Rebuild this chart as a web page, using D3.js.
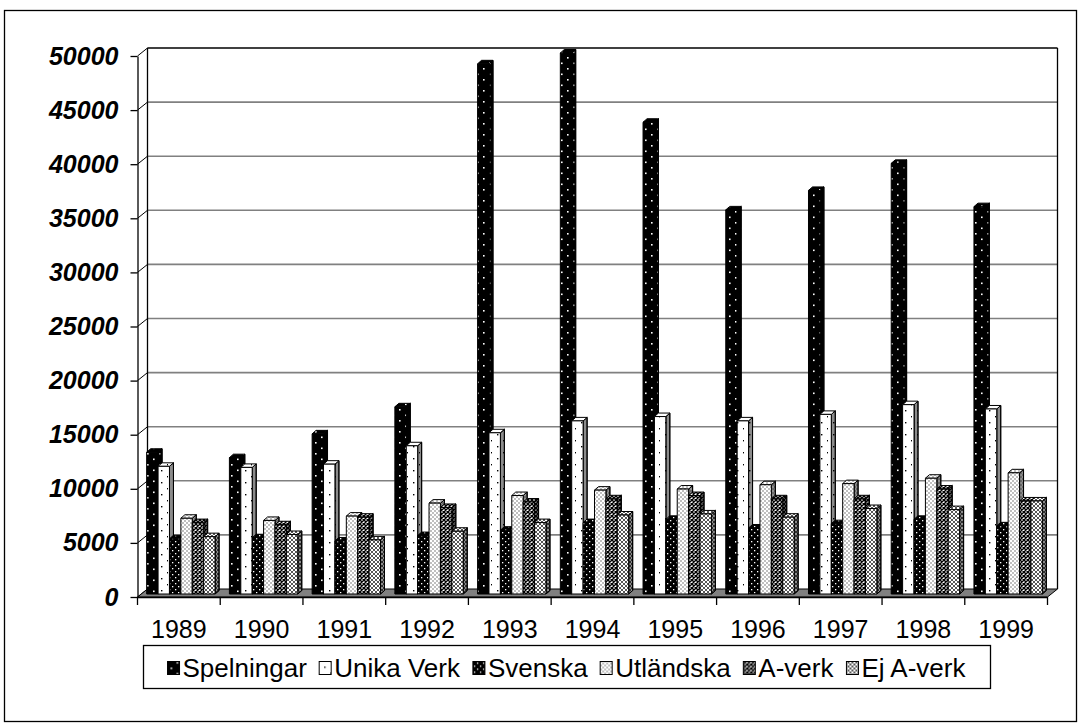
<!DOCTYPE html>
<html><head><meta charset="utf-8">
<script src="https://cdn.jsdelivr.net/npm/d3@7"></script>
<style>
html,body{margin:0;padding:0;background:#fff;}
svg{display:block;font-family:"Liberation Sans",Arial,Helvetica,sans-serif;}
</style>
</head><body>
<svg id="chart" width="1081" height="728"></svg>
<script>
// Yearly counts per series
const years = ["1989","1990","1991","1992","1993","1994","1995","1996","1997","1998","1999"];
const seriesNames = ["Spelningar","Unika Verk","Svenska","Utländska","A-verk","Ej A-verk"];
const spelningar = [13100,12600,14800,17300,49000,50000,43600,35500,37300,39800,35800];
const unikaVerk  = [11800,11700,12000,13700,14900,16000,16400,16000,16600,17500,17100];
const svenska    = [5100,5200,4900,5400,5900,6600,6900,6100,6500,6900,6300];
const utlandska  = [7000,6800,7200,8400,9100,9600,9700,10100,10200,10700,11200];
const aVerk      = [6600,6400,7100,8000,8500,8800,9100,8800,8800,9700,8600];
const ejAVerk    = [5300,5500,5000,5800,6600,7300,7400,7100,7900,7800,8600];
const yTicks = [0,5000,10000,15000,20000,25000,30000,35000,40000,45000,50000];

const seriesValues = [spelningar, unikaVerk, svenska, utlandska, aVerk, ejAVerk];
const patternIds = ["pSpel","pUnika","pSven","pUtl","pA","pEjA"];
const FONT = "'Liberation Sans',Arial,sans-serif";

const svg = d3.select("#chart");

// ---- fill patterns ----
const defs = svg.append("defs");
function dotPattern(id, w, h, bg, fg, dots, r) {
  const p = defs.append("pattern").attr("id", id).attr("patternUnits","userSpaceOnUse")
    .attr("width", w).attr("height", h);
  p.append("rect").attr("width", w).attr("height", h).attr("fill", bg);
  dots.forEach(([cx, cy]) => p.append("rect").attr("x", cx).attr("y", cy)
    .attr("width", r).attr("height", r).attr("fill", fg));
}
dotPattern("pSpel", 12, 11, "#000", "#fff", [[3,2],[9,7.5]], 1.6);
dotPattern("pUnika", 12, 12, "#fff", "#000", [[5,2],[11,8]], 1.4);
dotPattern("pSven", 6, 6, "#000", "#fff", [[1,1],[4,4]], 1.3);
dotPattern("pUtl", 4, 4, "#fff", "#000", [[0.5,0.5],[2.5,2.5]], 1);
function hatchPattern(id, bg, fg, sw) {
  const p = defs.append("pattern").attr("id", id).attr("patternUnits","userSpaceOnUse")
    .attr("width", 4).attr("height", 4);
  p.append("rect").attr("width", 4).attr("height", 4).attr("fill", bg);
  p.append("path").attr("d","M0,0L4,4M4,0L0,4").attr("stroke", fg).attr("stroke-width", sw);
}
hatchPattern("pA", "#fff", "#000", 1.4);
hatchPattern("pEjA", "#fff", "#444", 0.9);

// ---- geometry ----
const x = d3.scaleBand().domain(years).range([137.5, 1047.5]).paddingInner(0).paddingOuter(0);
const xs = d3.scaleBand().domain(seriesNames).range([0, x.bandwidth()]).paddingInner(0).paddingOuter(0.63);
const y = d3.scaleLinear().domain([0, 50000]).range([597, 56]);

const DX = 10, DY = -8;        // wall depth
const BFX = 2, BFY = -3;       // bar front offset inside the floor
const BDX = 4, BDY = -3.5;     // bar depth

// outer frame
svg.append("rect").attr("x", 4.5).attr("y", 10.5).attr("width", 1072).attr("height", 711)
  .attr("fill", "#fff").attr("stroke", "#000").attr("stroke-width", 1.3);

const x0 = x.range()[0], x1 = x.range()[1];

// back wall gridlines
svg.append("g").selectAll("line").data(yTicks.filter(v => v > 0)).join("line")
  .attr("x1", x0 + DX).attr("x2", x1 + DX)
  .attr("y1", d => y(d) + DY).attr("y2", d => y(d) + DY)
  .attr("stroke", d => d === 50000 ? "#000" : "#808080")
  .attr("stroke-width", d => d === 50000 ? 1.5 : 1.6);

// side wall diagonals
svg.append("g").selectAll("line").data(yTicks).join("line")
  .attr("x1", x0).attr("x2", x0 + DX)
  .attr("y1", d => y(d)).attr("y2", d => y(d) + DY)
  .attr("stroke", "#000").attr("stroke-width", 1);

// back wall edges
svg.append("line").attr("x1", x0 + DX).attr("x2", x0 + DX).attr("y1", y(50000) + DY).attr("y2", y(0) + DY)
  .attr("stroke", "#000").attr("stroke-width", 1.3);
svg.append("line").attr("x1", x1 + DX).attr("x2", x1 + DX).attr("y1", y(50000) + DY).attr("y2", y(0) + DY)
  .attr("stroke", "#000").attr("stroke-width", 1.3);

// floor
svg.append("path")
  .attr("d", `M${x0},${y(0)}L${x1},${y(0)}L${x1 + DX},${y(0) + DY}L${x0 + DX},${y(0) + DY}Z`)
  .attr("fill", "#808080").attr("stroke", "#000").attr("stroke-width", 1);

// bars
const barsG = svg.append("g");
years.forEach((yr, i) => {
  seriesNames.forEach((s, j) => {
    const v = seriesValues[j][i];
    const bx0 = x(yr) + xs(s) + BFX;
    const bx1 = bx0 + xs.bandwidth();
    const yt = y(v) + BFY;
    const yb = y(0) + BFY;
    const fill = `url(#${patternIds[j]})`;
    const g = barsG.append("g").attr("stroke", "#000").attr("stroke-width", 1).attr("stroke-linejoin", "round");
    // right side face
    const side = `M${bx1},${yt}L${bx1 + BDX},${yt + BDY}L${bx1 + BDX},${yb + BDY}L${bx1},${yb}Z`;
    g.append("path").attr("d", side).attr("fill", fill);
    g.append("path").attr("d", side).attr("fill", "rgba(0,0,0,0.45)");
    // top face
    g.append("path").attr("d", `M${bx0},${yt}L${bx0 + BDX},${yt + BDY}L${bx1 + BDX},${yt + BDY}L${bx1},${yt}Z`)
      .attr("fill", fill);
    // front face
    g.append("rect").attr("x", bx0).attr("y", yt).attr("width", bx1 - bx0).attr("height", yb - yt)
      .attr("fill", fill);
  });
});

// value axis
const yAxis = svg.append("g").attr("transform", `translate(${x0},0)`)
  .call(d3.axisLeft(y).tickValues(yTicks).tickFormat(d3.format("d")).tickSize(7).tickSizeOuter(0).tickPadding(12));
yAxis.select(".domain").attr("stroke", "#000").attr("stroke-width", 1.3);
yAxis.selectAll(".tick line").attr("stroke", "#000").attr("stroke-width", 1.3);
yAxis.selectAll(".tick text").attr("fill", "#000").style("font-size", "25px")
  .style("font-weight", "bold").style("font-style", "italic").attr("dy", "0.32em")
  .style("font-family", FONT);

// category axis
const xAxis = svg.append("g").attr("transform", `translate(0,${y(0)})`)
  .call(d3.axisBottom(x).tickSize(0).tickSizeOuter(0).tickPadding(23));
xAxis.select(".domain").attr("stroke", "#000").attr("stroke-width", 1.3);
xAxis.selectAll(".tick text").attr("fill", "#000").style("font-size", "25px")
  .style("font-family", FONT);
svg.append("g").selectAll("line").data(years.map(d => x(d)).concat([x1])).join("line")
  .attr("x1", d => d).attr("x2", d => d).attr("y1", y(0)).attr("y2", y(0) + 8)
  .attr("stroke", "#000").attr("stroke-width", 1.3);

// legend
const legend = svg.append("g");
const legX = 143.5, legY = 645.5, legW = 847, legH = 43;
legend.append("rect").attr("x", legX).attr("y", legY).attr("width", legW).attr("height", legH)
  .attr("fill", "#fff").attr("stroke", "#000").attr("stroke-width", 1.3);
const items = legend.selectAll("g.item").data(seriesNames).join("g").attr("class", "item");
items.append("rect").attr("width", 12).attr("height", 13).attr("y", -15)
  .attr("fill", (d, j) => `url(#${patternIds[j]})`).attr("stroke", "#000").attr("stroke-width", 1);
items.append("text").attr("x", 15).attr("y", 0).text(d => d)
  .style("font-size", "26px").style("font-family", FONT).attr("fill", "#000");
let widths = [];
items.each(function() { widths.push(this.getBBox().width); });
const gap = 12;
const total = d3.sum(widths) + gap * (widths.length - 1);
let cx = legX + (legW - total) / 2;
items.each(function(d, j) {
  d3.select(this).attr("transform", `translate(${cx},${legY + legH / 2 + 9.5})`);
  cx += widths[j] + gap;
});
</script>
</body></html>
